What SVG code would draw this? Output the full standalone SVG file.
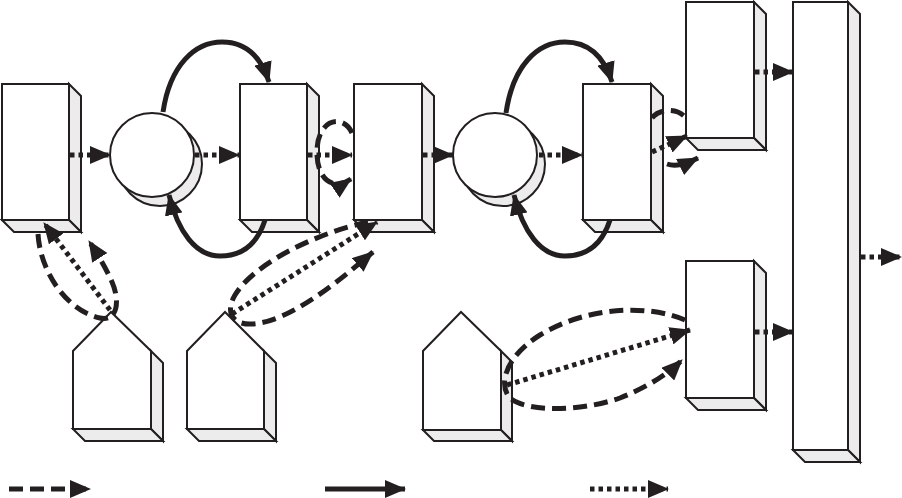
<svg xmlns="http://www.w3.org/2000/svg" width="902" height="498" viewBox="0 0 902 498">
<style>
.f{fill:#fff;stroke:#231f20;stroke-width:2;stroke-linejoin:miter}
.s{fill:#ececec;stroke:#231f20;stroke-width:2;stroke-linejoin:miter}
.dot{fill:none;stroke:#231f20;stroke-width:5;stroke-dasharray:4.5 4}
.dash{fill:none;stroke:#231f20;stroke-width:5;stroke-dasharray:14 7}
.sol{fill:none;stroke:#231f20;stroke-width:5}
</style>
<defs>
<marker id="ah" markerUnits="userSpaceOnUse" markerWidth="22" markerHeight="18" refX="20" refY="9" orient="auto" viewBox="0 0 22 18">
<path d="M0,0 L21,9 L0,18 z" fill="#231f20"/>
</marker>
</defs>
<g id="boxA">
<path class="s" d="M69,84 L81,96 L81,232 L69,220 Z"/>
<path class="s" d="M2,220 L69,220 L81,232 L14,232 Z"/>
<rect class="f" x="2" y="84" width="67" height="136"/>
</g>
<g id="circle1">
<circle class="s" cx="160" cy="164" r="42"/>
<circle class="f" cx="152" cy="155" r="42"/>
</g>
<g id="boxB">
<path class="s" d="M307,84 L319,96 L319,232 L307,220 Z"/>
<path class="s" d="M240,220 L307,220 L319,232 L252,232 Z"/>
<rect class="f" x="240" y="84" width="67" height="136"/>
</g>
<g id="boxC">
<path class="s" d="M422,84 L434,96 L434,232 L422,220 Z"/>
<path class="s" d="M354,220 L422,220 L434,232 L366,232 Z"/>
<rect class="f" x="354" y="84" width="68" height="136"/>
</g>
<g id="circle2">
<circle class="s" cx="503" cy="164" r="42"/>
<circle class="f" cx="495" cy="155" r="42"/>
</g>
<g id="boxD">
<path class="s" d="M651,84 L663,96 L663,232 L651,220 Z"/>
<path class="s" d="M583,220 L651,220 L663,232 L595,232 Z"/>
<rect class="f" x="583" y="84" width="68" height="136"/>
</g>
<g id="boxE">
<path class="s" d="M754,2 L766,14 L766,150 L754,138 Z"/>
<path class="s" d="M686,138 L754,138 L766,150 L698,150 Z"/>
<rect class="f" x="686" y="2" width="68" height="136"/>
</g>
<g id="boxG">
<path class="s" d="M754,261 L766,273 L766,410 L754,398 Z"/>
<path class="s" d="M686,398 L754,398 L766,410 L698,410 Z"/>
<rect class="f" x="686" y="261" width="68" height="137"/>
</g>
<g id="boxF">
<path class="s" d="M848,2 L860,14 L860,462 L848,450 Z"/>
<path class="s" d="M793,450 L848,450 L860,462 L805,462 Z"/>
<rect class="f" x="793" y="2" width="55" height="448"/>
</g>
<g id="house1">
<path class="s" d="M151,351 L163,363 L163,441 L151,429 Z"/>
<path class="s" d="M73,429 L151,429 L163,441 L85,441 Z"/>
<path class="f" d="M73,351 L111,312 L151,351 L151,429 L73,429 Z"/>
</g>
<g id="house2">
<path class="s" d="M264,351 L276,363 L276,441 L264,429 Z"/>
<path class="s" d="M187,429 L264,429 L276,441 L199,441 Z"/>
<path class="f" d="M187,351 L225,312 L264,351 L264,429 L187,429 Z"/>
</g>
<g id="house3">
<path class="s" d="M501,351 L512,362 L512,441 L501,430 Z"/>
<path class="s" d="M423,430 L501,430 L512,441 L434,441 Z"/>
<path class="f" d="M423,351 L461,312 L501,351 L501,430 L423,430 Z"/>
</g>
<g id="connectors">
<path class="dot" d="M70,155 L110,155" marker-end="url(#ah)"/>
<path class="dot" d="M195,155 L239,155" marker-end="url(#ah)"/>
<path class="dot" d="M308,155 L352,155" marker-end="url(#ah)"/>
<path class="dot" d="M423,155 L453,155" marker-end="url(#ah)"/>
<path class="dot" d="M539,155 L582,155" marker-end="url(#ah)"/>
<path class="dot" d="M755,72 L793,72" marker-end="url(#ah)"/>
<path class="dot" d="M755,332 L793,332" marker-end="url(#ah)"/>
<path class="dot" d="M861,257 L901,257" marker-end="url(#ah)"/>
<path class="sol" d="M163,112 C170,65 195,42 222,42 C248,42 262,60 269,82" marker-end="url(#ah)"/>
<path class="sol" d="M265,220 C256,248 238,256 220,256 C196,256 178,232 169,195" marker-end="url(#ah)"/>
<path class="sol" d="M506,113 C513,65 538,42 565,42 C591,42 605,60 612,82" marker-end="url(#ah)"/>
<path class="sol" d="M610,220 C601,248 583,256 565,256 C541,256 523,232 514,195" marker-end="url(#ah)"/>
<path class="dot" d="M110,310 L44,223" marker-end="url(#ah)"/>
<path class="dash" d="M38,234 C40,270 65,310 100,318 C118,322 120,300 112,282 C106,268 98,255 89,241" marker-end="url(#ah)"/>
<path class="dot" d="M232,314 L377,222" marker-end="url(#ah)"/>
<path class="dash" d="M368,222 C320,232 255,262 235,295 C225,312 232,325 252,324 C290,322 340,280 373,252" marker-end="url(#ah)"/>
<path class="dash" d="M352,133 C344,114 318,118 317,150 C316,178 332,192 351,179" marker-end="url(#ah)"/>
<path class="dash" d="M652,118 C660,108 678,108 686,118"/>
<path class="dot" d="M652,152 L687,136" marker-end="url(#ah)"/>
<path class="dash" d="M667,164 C676,167 686,164 698,158" marker-end="url(#ah)"/>
<path class="dot" d="M507,385 L690,330" marker-end="url(#ah)"/>
<path class="dash" d="M685,320 C650,305 590,305 540,335 C505,357 498,385 510,398 C525,412 580,412 620,398 C650,386 670,372 682,360" marker-end="url(#ah)"/>
</g>
<g id="legend">
<path class="dash" d="M9,489 L90,489" stroke-dasharray="14 7" marker-end="url(#ah)"/>
<path class="sol" d="M325,489 L405,489" marker-end="url(#ah)"/>
<path class="dot" d="M590,489 L668,489" stroke-dasharray="3 3" marker-end="url(#ah)"/>
</g>
</svg>
